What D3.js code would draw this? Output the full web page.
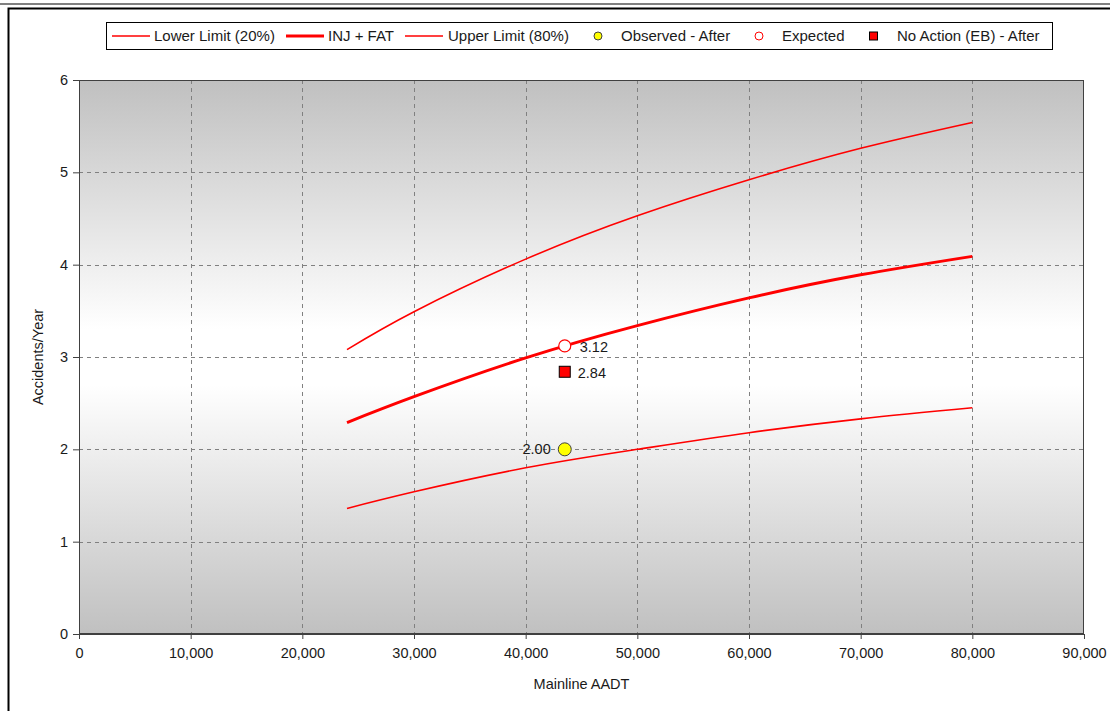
<!DOCTYPE html>
<html><head><meta charset="utf-8">
<script src="https://cdn.jsdelivr.net/npm/d3@7"></script>
<style>body{margin:0;background:#fff;}svg{display:block;font-family:"Liberation Sans",Arial,sans-serif;}</style>
</head><body>
<svg id="c" width="1110" height="711"></svg>
<script>
const aadt = [24000, 30000, 40000, 50000, 60000, 70000, 80000];
const lowerLimit = [1.36, 1.54, 1.80, 2.00, 2.18, 2.33, 2.45];
const injFat = [2.29, 2.57, 2.99, 3.34, 3.64, 3.89, 4.09];
const upperLimit = [3.08, 3.49, 4.06, 4.53, 4.92, 5.26, 5.54];
const pointAadt = 43500;
const observedAfter = 2.00;
const expected = 3.12;
const noActionEB = 2.84;
const xTicks = [0,10000,20000,30000,40000,50000,60000,70000,80000,90000];
const yTicks = [0,1,2,3,4,5,6];
const legendLabels = ["Lower Limit (20%)","INJ + FAT","Upper Limit (80%)","Observed - After","Expected","No Action (EB) - After"];

const svg = d3.select("#c");
const L=79, R=1084, T=80, B=634;
const x = d3.scaleLinear().domain([0,90000]).range([L,R]);
const y = d3.scaleLinear().domain([0,6]).range([B,T]);

// outer frame
svg.append("line").attr("x1",0).attr("x2",1110).attr("y1",4).attr("y2",4).attr("stroke","#808080").attr("stroke-width",2);
svg.append("path").attr("d","M8.5,711 V8.5 H1110").attr("fill","none").attr("stroke","#000").attr("stroke-width",2);

const defs = svg.append("defs");
const g = defs.append("linearGradient").attr("id","bg").attr("x1",0).attr("x2",0).attr("y1",0).attr("y2",1);
g.append("stop").attr("offset","0%").attr("stop-color","#c0c0c0");
g.append("stop").attr("offset","45%").attr("stop-color","#ffffff");
g.append("stop").attr("offset","55%").attr("stop-color","#ffffff");
g.append("stop").attr("offset","100%").attr("stop-color","#c0c0c0");
svg.append("rect").attr("x",L).attr("y",T).attr("width",R-L).attr("height",B-T).attr("fill","url(#bg)");

// grid
svg.append("g").selectAll("line").data(xTicks.slice(1,-1)).join("line")
  .attr("x1",d=>Math.round(x(d))+0.5).attr("x2",d=>Math.round(x(d))+0.5).attr("y1",T).attr("y2",B)
  .attr("stroke","#808080").attr("stroke-dasharray","4,4");
svg.append("g").selectAll("line").data(yTicks.slice(1,-1)).join("line")
  .attr("y1",d=>Math.round(y(d))+0.5).attr("y2",d=>Math.round(y(d))+0.5).attr("x1",L).attr("x2",R)
  .attr("stroke","#808080").attr("stroke-dasharray","4,4");

svg.append("rect").attr("x",L+0.5).attr("y",T+0.5).attr("width",R-L-1).attr("height",B-T-1).attr("fill","none").attr("stroke","#404040");

// axes
const xAxis = d3.axisBottom(x).tickValues(xTicks).tickFormat(d3.format(",")).tickSize(5).tickSizeOuter(0);
const gx = svg.append("g").attr("transform",`translate(0,${B})`).call(xAxis);
gx.select(".domain").attr("stroke","#404040");
gx.selectAll(".tick line").attr("stroke","#404040");
gx.selectAll("text").attr("font-size","14.5px").attr("fill","#1a1a1a").attr("font-family","Liberation Sans, Arial").attr("dy","1.1em");
const yAxis = d3.axisLeft(y).tickValues(yTicks).tickFormat(d3.format("d")).tickSize(6).tickSizeOuter(0);
const gy = svg.append("g").attr("transform",`translate(${L},0)`).call(yAxis);
gy.select(".domain").attr("stroke","#404040");
gy.selectAll(".tick line").attr("stroke","#404040");
gy.selectAll("text").attr("font-size","14.5px").attr("fill","#1a1a1a").attr("font-family","Liberation Sans, Arial").attr("x",-11);

svg.append("text").attr("x",(L+R)/2).attr("y",689).attr("text-anchor","middle").attr("font-size","14.5px").attr("fill","#1a1a1a").text("Mainline AADT");
svg.append("text").attr("transform",`translate(43,${(T+B)/2}) rotate(-90)`).attr("text-anchor","middle").attr("font-size","14.5px").attr("fill","#1a1a1a").text("Accidents/Year");

// lines
const line = d3.line().x(d=>x(d[0])).y(d=>y(d[1])).curve(d3.curveNatural);
const series = [[lowerLimit,1.6],[injFat,3],[upperLimit,1.6]];
series.forEach(([vals,w])=>{
  svg.append("path").datum(aadt.map((a,i)=>[a,vals[i]])).attr("d",line)
    .attr("fill","none").attr("stroke","#ff0000").attr("stroke-width",w);
});

// points
svg.append("circle").attr("cx",x(pointAadt)).attr("cy",y(observedAfter)).attr("r",6.5)
  .attr("fill","#ffff00").attr("stroke","#404040").attr("stroke-width",1);
svg.append("circle").attr("cx",x(pointAadt)).attr("cy",y(expected)).attr("r",6)
  .attr("fill","#ffffff").attr("stroke","#ff0000").attr("stroke-width",1.2);
svg.append("rect").attr("x",x(pointAadt)-5.5).attr("y",y(noActionEB)-5.5).attr("width",11).attr("height",11)
  .attr("fill","#ff0000").attr("stroke","#000").attr("stroke-width",1);

const lbl = (t,xx,yy,anchor)=>svg.append("text").attr("x",xx).attr("y",yy).attr("dy","0.35em").attr("text-anchor",anchor).attr("font-size","14.5px").attr("fill","#1a1a1a").text(t);
lbl(d3.format(".2f")(expected), x(pointAadt)+15, y(expected)+1, "start");
lbl(d3.format(".2f")(noActionEB), x(pointAadt)+13, y(noActionEB)+1, "start");
lbl(d3.format(".2f")(observedAfter), x(pointAadt)-14, y(observedAfter), "end");

// legend
const lg = svg.append("g");
lg.append("rect").attr("x",106.5).attr("y",22.5).attr("width",946).attr("height",27).attr("fill","#fff").attr("stroke","#000");
const ly = 36;
const lineItems = [[112,150,154,1.6],[286,324,328,3],[405,443,448,1.6]];
lineItems.forEach((it,i)=>{
  lg.append("line").attr("x1",it[0]).attr("x2",it[1]).attr("y1",ly).attr("y2",ly).attr("stroke","#ff0000").attr("stroke-width",it[3]);
  lg.append("text").attr("x",it[2]).attr("y",ly).attr("dy","0.35em").attr("font-size","15px").attr("fill","#1a1a1a").text(legendLabels[i]);
});
lg.append("circle").attr("cx",598).attr("cy",ly).attr("r",4).attr("fill","#ffff00").attr("stroke","#404040");
lg.append("text").attr("x",621).attr("y",ly).attr("dy","0.35em").attr("font-size","15px").attr("fill","#1a1a1a").text(legendLabels[3]);
lg.append("circle").attr("cx",759).attr("cy",ly).attr("r",4).attr("fill","#fff").attr("stroke","#ff0000");
lg.append("text").attr("x",782).attr("y",ly).attr("dy","0.35em").attr("font-size","15px").attr("fill","#1a1a1a").text(legendLabels[4]);
lg.append("rect").attr("x",869.5).attr("y",ly-4).attr("width",8).attr("height",8).attr("fill","#ff0000").attr("stroke","#000");
lg.append("text").attr("x",897).attr("y",ly).attr("dy","0.35em").attr("font-size","15px").attr("fill","#1a1a1a").text(legendLabels[5]);
</script>
</body></html>
